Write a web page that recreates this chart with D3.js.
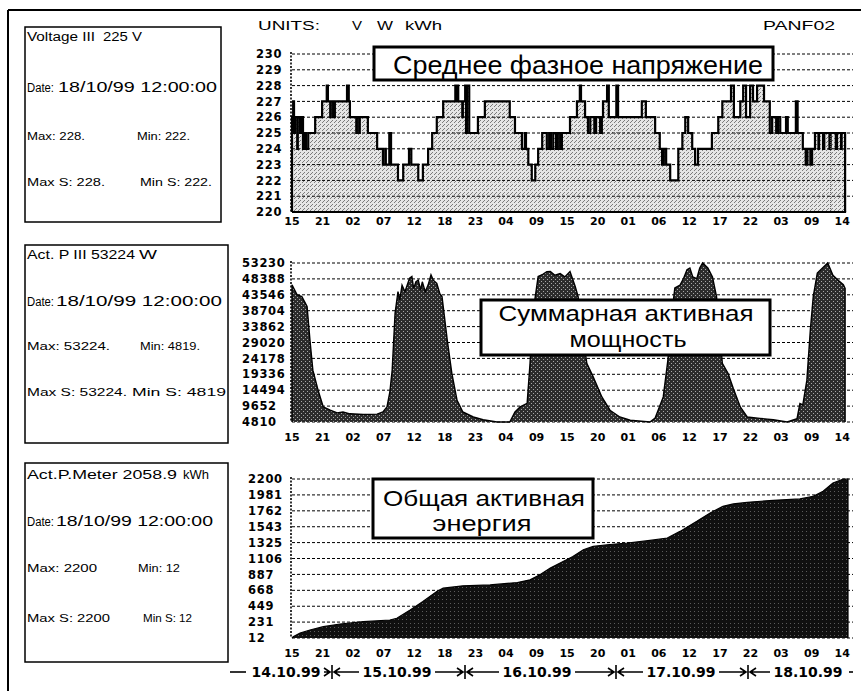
<!DOCTYPE html>
<html>
<head>
<meta charset="utf-8">
<script src="https://cdn.jsdelivr.net/npm/d3@7"></script>
<style>
  body { margin: 0; background: #fff; }
  svg { display: block; }
</style>
</head>
<body>
<svg id="chart" width="861" height="691"></svg>
<script>
// ---- time axis: hours counted from 14.10.99 15:00 ----
const xTickLabels = ["15","21","02","07","12","18","23","04","09","15","20","01","06","12","17","22","03","09","14"];
const lastTickHour = 95;          // 18.10.99 14:00
const cursorHour = 93;            // 18/10/99 12:00:00
const dayLabels = ["14.10.99","15.10.99","16.10.99","17.10.99","18.10.99"];

// ---- y ticks ----
const voltageTicks = [220,221,222,223,224,225,226,227,228,229,230];
const powerTicks = [4810,9652,14494,19336,24178,29020,33862,38704,43546,48388,53230];
const energyTicks = [12,231,449,668,887,1106,1325,1543,1762,1981,2200];

// ---- average phase voltage, V (step series) ----
const voltageHours = [0,0.2,0.35,0.5,0.9,1.0,1.4,1.55,1.9,2.1,2.4,2.8,4.0,5.2,6.0,6.2,6.6,6.7,7.1,7.4,9.5,9.8,10.0,11.1,11.2,11.6,11.7,13.1,14.7,15.7,16.1,16.2,16.8,17.1,18.3,19.2,20.2,20.6,21.8,22.6,23.5,24.2,25.0,26.1,28.2,28.3,28.5,28.7,29.4,29.5,29.9,30.05,30.2,30.6,32.1,33.3,37.6,38.5,39.7,40.2,40.4,40.8,41.4,42.0,42.5,43.2,44.0,44.4,44.7,45.1,45.6,45.9,46.3,46.6,48.0,49.2,49.7,49.9,50.6,51.1,51.5,52.2,52.5,53.2,53.5,53.7,54.4,54.7,56.0,56.3,60.4,61.1,62.7,63.5,63.9,64.2,64.6,65.3,66.7,67.4,67.9,68.4,69.1,69.6,70.1,72.5,73.6,74.3,75.8,76.3,77.4,77.9,78.4,79.1,79.6,80.3,81.5,82.5,82.9,83.6,83.9,84.3,85.3,85.6,87.0,87.3,88.2,88.7,89.0,89.5,89.8,90.3,90.9,91.0,91.7,91.9,92.8,93.0,93.9,94.1,94.8,94.9,95.5];
const voltageValues = [226,227,225,226,224,226,225,226,224,225,224,225,226,227,228,227,226,227,226,227,228,227,226,225,226,225,226,225,224,223,224,223,225,223,222,223,224,223,222,223,224,225,226,227,228,227,228,227,226,227,228,225,228,225,226,227,226,225,224,225,224,223,222,223,224,225,224,225,224,225,224,225,224,225,226,227,228,227,226,225,226,225,226,225,226,227,228,226,228,226,227,226,225,224,223,224,223,222,224,225,226,225,224,223,224,225,226,227,228,226,227,228,226,228,227,228,227,225,226,225,226,225,226,225,227,225,224,223,224,223,224,225,224,225,224,225,224,225,224,225,224,225,225];

// ---- total active power, W ----
const powerHours = [0,0.9,1.7,2.6,3.1,3.6,4.5,5.4,6.6,7.8,8.8,10.0,12.3,14.7,15.7,16.4,16.9,17.3,17.8,18.3,18.6,19.0,19.5,20.3,20.7,21.0,21.4,21.8,22.2,22.5,23.0,23.5,24.0,24.4,25.0,25.5,25.9,26.8,27.6,28.5,29.5,31.3,33.0,35.4,37.6,38.5,39.4,40.6,41.1,41.6,42.5,43.3,44.0,44.6,45.4,46.3,47.1,48.0,48.9,49.4,50.1,50.9,52.0,53.5,54.9,56.6,58.4,61.8,62.7,64.1,64.9,65.6,66.1,67.0,67.6,68.2,68.7,69.2,69.9,70.4,70.9,71.8,72.6,73.3,73.8,74.3,75.3,76.2,77.4,78.6,80.8,83.1,85.5,87.2,87.7,88.2,88.9,89.5,90.0,90.7,91.6,92.5,93.4,94.3,95.2,95.5];
const powerValues = [46600,43500,43000,40000,29800,20600,14500,9400,8400,7600,7870,7300,7100,7200,7870,9400,14000,20600,38000,44500,42000,46500,44500,48600,49100,45500,47500,48000,45000,47500,44500,46500,49650,48000,47000,44000,43000,29800,19600,11400,7870,6340,5500,4810,4810,7870,9400,10500,22700,38000,49100,49800,50600,50650,49500,50000,49000,50600,46100,43000,33000,22700,18560,12450,8400,6340,5330,4810,6000,12450,23670,38000,45600,46500,48500,51180,51700,49000,48500,51700,53230,51700,49000,43000,33000,22700,19600,15000,9400,6340,5900,5500,4810,5800,10430,10000,17560,32860,43000,50180,51700,53230,49500,48000,46600,45500];

// ---- total active energy, kWh ----
const energyHours = [0,0.2,1.4,3.1,5.4,8.3,12.3,16.9,18.1,20.4,22.6,25.0,26.1,29.5,34.2,38.9,41.1,42.8,44.6,46.3,48.5,50.3,52.0,54.4,57.9,61.8,64.8,67.0,69.9,72.2,74.4,76.2,78.6,83.1,87.7,90.0,91.7,93.4,95.2,96];
const energyValues = [12,30,81,122,168,205,237,260,284,398,513,651,698,730,743,775,812,881,974,1043,1134,1226,1272,1295,1319,1355,1388,1479,1617,1733,1824,1857,1879,1907,1926,1962,2031,2146,2200,2200];

const svg = d3.select("#chart");
const defs = svg.append("defs");

// halftone-like fills
function stipple(id, base, dot, dots) {
  const p = defs.append("pattern").attr("id", id)
    .attr("width", 4).attr("height", 4).attr("patternUnits", "userSpaceOnUse");
  p.append("rect").attr("width", 4).attr("height", 4).attr("fill", base);
  dots.forEach(([a, b]) => p.append("rect").attr("x", a).attr("y", b)
    .attr("width", 1).attr("height", 1).attr("fill", dot));
}
stipple("vFill", "#e6e6e6", "#7c7c7c", [[0, 0], [2, 2], [3, 1]]);
stipple("pFill", "#2c2c2c", "#a8a8a8", [[1, 1], [3, 3]]);
stipple("eFill", "#101010", "#5c5c5c", [[2, 3]]);

function txt(g, x, y, s, o = {}) {
  const t = g.append("text").attr("x", x).attr("y", y).text(s)
    .attr("font-family", o.family || "'Liberation Sans', Arial, sans-serif")
    .attr("font-size", o.size || 12)
    .attr("font-weight", o.weight || "normal")
    .attr("text-anchor", o.anchor || "start")
    .attr("fill", "#000");
  if (o.len) t.attr("textLength", o.len).attr("lengthAdjust", "spacingAndGlyphs");
  if (o.ls) t.attr("letter-spacing", o.ls);
  return t;
}

const x = d3.scaleLinear().domain([0, 96]).range([292, 848]);
const gridRight = 853;
const tickStep = lastTickHour / (xTickLabels.length - 1);

// ---- outer frame ----
svg.append("line").attr("x1", 8).attr("x2", 861).attr("y1", 10).attr("y2", 10)
  .attr("stroke", "#000").attr("stroke-width", 2);
svg.append("line").attr("x1", 8).attr("x2", 8).attr("y1", 10).attr("y2", 691)
  .attr("stroke", "#000").attr("stroke-width", 2);

// ---- header ----
txt(svg, 258, 30, "UNITS:", { size: 13, len: 62 });
txt(svg, 352, 30, "V", { size: 13, len: 10 });
txt(svg, 377, 30, "W", { size: 13, len: 16 });
txt(svg, 405, 30, "kWh", { size: 13, len: 37 });
txt(svg, 763, 30, "PANF02", { size: 13, len: 72 });

// ---- panels ----
function panel(cfg) {
  const g = svg.append("g");
  const y = d3.scaleLinear().domain(cfg.domain).range([cfg.bottom, cfg.top]);
  const pts = cfg.hours.map((h, i) => [h, cfg.values[i]]);

  const grid = () => {
    g.append("g").selectAll("line").data(cfg.ticks.slice(cfg.solidBase ? 1 : 0)).join("line")
      .attr("x1", x(0)).attr("x2", gridRight)
      .attr("y1", d => y(d)).attr("y2", d => y(d))
      .attr("stroke", "#000").attr("stroke-width", 1).attr("stroke-dasharray", "3,2");
  };

  if (!cfg.gridOnTop) grid();

  const area = d3.area().curve(cfg.curve)
    .x(d => x(d[0])).y0(cfg.bottom).y1(d => y(d[1]));
  g.append("path").datum(pts).attr("d", area)
    .attr("fill", `url(#${cfg.fill})`).attr("stroke", "none");

  if (cfg.gridOnTop) grid();

  // data outline including the vertical drops at both ends
  const line = d3.line().curve(cfg.curve).x(d => x(d[0])).y(d => y(d[1]));
  const first = pts[0], last = pts[pts.length - 1];
  g.append("path")
    .attr("d", `M${x(first[0])},${cfg.bottom}L${x(first[0])},${y(first[1])}` +
      line(pts).slice(1).replace(/^[\d.,-]+/, m => "L" + m) +
      `L${x(last[0])},${cfg.bottom}`)
    .attr("fill", "none").attr("stroke", "#000")
    .attr("stroke-width", cfg.lineWidth).attr("stroke-linejoin", "miter");

  if (cfg.solidBase) {
    g.append("line").attr("x1", x(0)).attr("x2", x(last[0]) + 1)
      .attr("y1", cfg.bottom).attr("y2", cfg.bottom)
      .attr("stroke", "#000").attr("stroke-width", 2);
  }

  if (cfg.cursor) {
    const iC = d3.bisectRight(cfg.hours, cursorHour) - 1;
    g.append("line").attr("x1", x(cursorHour)).attr("x2", x(cursorHour))
      .attr("y1", y(cfg.values[iC]) + 3).attr("y2", cfg.bottom)
      .attr("stroke", "#555").attr("stroke-width", 1).attr("stroke-dasharray", "1,1");
  }

  // left axis (dotted)
  g.append("line").attr("x1", x(0) - 1).attr("x2", x(0) - 1)
    .attr("y1", y(cfg.domain[1]) - 2).attr("y2", cfg.bottom)
    .attr("stroke", "#000").attr("stroke-width", 1.6).attr("stroke-dasharray", "2,1.5");

  // y tick labels
  g.append("g").selectAll("text").data(cfg.ticks).join("text")
    .attr("x", cfg.labelX).attr("y", d => y(d)).attr("dy", "0.36em")
    .attr("font-family", "'DejaVu Sans', sans-serif").attr("font-weight", "bold")
    .attr("font-size", 11.5).attr("letter-spacing", 0.7)
    .text(d => d);

  // x tick labels
  g.append("g").selectAll("text").data(xTickLabels).join("text")
    .attr("x", (d, i) => x(i * tickStep)).attr("y", cfg.xLabelY)
    .attr("text-anchor", "middle")
    .attr("font-family", "'DejaVu Sans', sans-serif").attr("font-weight", "bold")
    .attr("font-size", 11).text(d => d);

  return g;
}

panel({ domain: [220, 230], ticks: voltageTicks, top: 54, bottom: 212,
  hours: voltageHours, values: voltageValues, curve: d3.curveStepAfter,
  fill: "vFill", gridOnTop: true, solidBase: true, lineWidth: 2.2, cursor: true,
  labelX: 256, xLabelY: 225 });

panel({ domain: [4810, 53230], ticks: powerTicks, top: 263, bottom: 422,
  hours: powerHours, values: powerValues, curve: d3.curveLinear,
  fill: "pFill", gridOnTop: false, solidBase: false, lineWidth: 1.4,
  labelX: 242, xLabelY: 441 });

panel({ domain: [12, 2200], ticks: energyTicks, top: 479, bottom: 638,
  hours: energyHours, values: energyValues, curve: d3.curveLinear,
  fill: "eFill", gridOnTop: false, solidBase: false, lineWidth: 1.2,
  labelX: 248, xLabelY: 657 });

// ---- caption boxes over the plots ----
function caption(x0, y0, w, h, size, lines) {
  svg.append("rect").attr("x", x0).attr("y", y0).attr("width", w).attr("height", h)
    .attr("fill", "#fff").attr("stroke", "#000").attr("stroke-width", 3);
  lines.forEach(l => txt(svg, l.cx, l.y, l.s, { size, anchor: "middle", len: l.len }));
}
caption(374, 47, 399, 33, 25, [{ s: "Среднее фазное напряжение", cx: 578, y: 74, len: 370 }]);
caption(481, 300, 289, 55, 22, [
  { s: "Суммарная активная", cx: 626, y: 321, len: 255 },
  { s: "мощность", cx: 628, y: 347, len: 117 }]);
caption(373, 479, 220, 59, 21.5, [
  { s: "Общая активная", cx: 484, y: 506, len: 202 },
  { s: "энергия", cx: 482, y: 531, len: 99 }]);

// ---- info boxes on the left ----
function infoBox(y0, w, h, rows) {
  svg.append("rect").attr("x", 25).attr("y", y0).attr("width", w).attr("height", h)
    .attr("fill", "none").attr("stroke", "#000").attr("stroke-width", 1.5);
  rows.forEach(r => txt(svg, r.x, r.y, r.s, { size: r.size || 11.5, len: r.len }));
}
infoBox(27, 196, 195, [
  { x: 27, y: 41, s: "Voltage III", len: 68, size: 12 },
  { x: 103, y: 41, s: "225 V", len: 39, size: 13 },
  { x: 27, y: 92, s: "Date:", len: 27, size: 12 },
  { x: 58, y: 92, s: "18/10/99  12:00:00", len: 159, size: 14 },
  { x: 27, y: 140, s: "Max: 228.", len: 58 },
  { x: 137, y: 140, s: "Min: 222.", len: 53 },
  { x: 27, y: 186, s: "Max S: 228.", len: 78 },
  { x: 140, y: 186, s: "Min S: 222.", len: 72 }]);
infoBox(245, 203, 198, [
  { x: 27, y: 259, s: "Act. P III 53224", len: 108, size: 12 },
  { x: 139, y: 259, s: "W", len: 18, size: 13 },
  { x: 27, y: 306, s: "Date:", len: 27, size: 12 },
  { x: 56, y: 306, s: "18/10/99  12:00:00", len: 166, size: 14 },
  { x: 27, y: 350, s: "Max: 53224.", len: 83 },
  { x: 140, y: 350, s: "Min: 4819.", len: 60 },
  { x: 27, y: 396, s: "Max S: 53224.", len: 100 },
  { x: 132, y: 396, s: "Min S: 4819", len: 94 }]);
infoBox(463, 203, 199, [
  { x: 27, y: 479, s: "Act.P.Meter 2058.9", len: 150, size: 12 },
  { x: 183, y: 479, s: "kWh", len: 26, size: 13 },
  { x: 27, y: 526, s: "Date:", len: 27, size: 12 },
  { x: 56, y: 526, s: "18/10/99  12:00:00", len: 157, size: 14 },
  { x: 27, y: 572, s: "Max: 2200", len: 70 },
  { x: 138, y: 572, s: "Min: 12", len: 42 },
  { x: 27, y: 622, s: "Max S: 2200", len: 83 },
  { x: 143, y: 622, s: "Min S: 12", len: 49 }]);

// ---- day row under the time axis ----
const dayRowY = 672;
const dayCenters = [286, 397, 537, 681, 808];
const dayBreaks = [332, 465, 616, 748];
const row = svg.append("g").attr("stroke", "#000").attr("stroke-width", 1.6).attr("fill", "none");
dayLabels.forEach((d, i) => txt(svg, dayCenters[i], dayRowY + 5, d,
  { family: "'DejaVu Sans', sans-serif", weight: "bold", size: 13.5, anchor: "middle", len: 69 }));
row.append("line").attr("x1", 230).attr("x2", 246).attr("y1", dayRowY).attr("y2", dayRowY);
row.append("line").attr("x1", 849).attr("x2", 853).attr("y1", dayRowY).attr("y2", dayRowY);
dayBreaks.forEach((s, i) => {
  const a = dayCenters[i] + 38, b = dayCenters[i + 1] - 38;
  row.append("path").attr("d",
    `M${a},${dayRowY}L${s - 2},${dayRowY}M${s - 8},${dayRowY - 4}L${s - 2},${dayRowY}L${s - 8},${dayRowY + 4}` +
    `M${s},${dayRowY - 7}L${s},${dayRowY + 7}` +
    `M${s + 8},${dayRowY - 4}L${s + 2},${dayRowY}L${s + 8},${dayRowY + 4}M${s + 2},${dayRowY}L${b},${dayRowY}`);
});
</script>
</body>
</html>
